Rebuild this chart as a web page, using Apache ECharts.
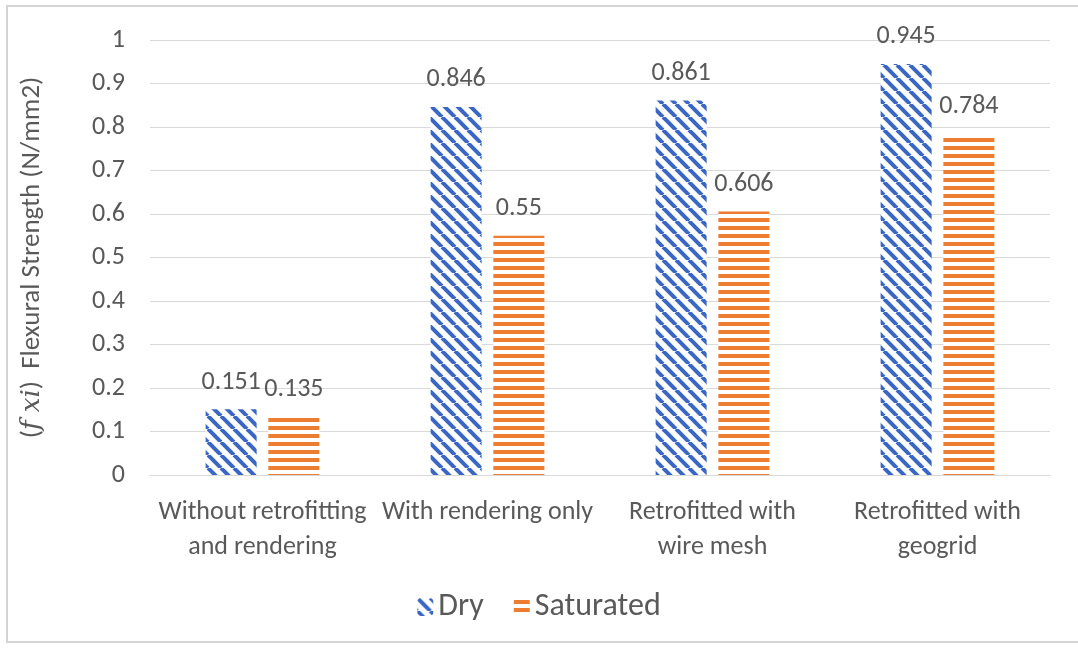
<!DOCTYPE html>
<html>
<head>
<meta charset="utf-8">
<script src="https://cdn.jsdelivr.net/npm/echarts@6/dist/echarts.min.js"></script>
<style>
html,body{margin:0;padding:0;background:#fff;}
#c{width:1078px;height:648px;}
</style>
</head>
<body>
<div id="c"></div>
<script>
const categories = ['Without retrofitting\nand rendering', 'With rendering only', 'Retrofitted with\nwire mesh', 'Retrofitted with\ngeogrid'];
const dryValues = [0.151, 0.846, 0.861, 0.945];
const saturatedValues = [0.135, 0.55, 0.606, 0.784];
const yTicks = [0, 0.1, 0.2, 0.3, 0.4, 0.5, 0.6, 0.7, 0.8, 0.9, 1];

const FONT = "Carlito, 'Liberation Sans Narrow', 'Open Sans', sans-serif";
const TXT = '#595959';

function diagPattern(color) {
  const s = 13;
  const c = document.createElement('canvas');
  c.width = s; c.height = s;
  const g = c.getContext('2d');
  g.fillStyle = '#fff'; g.fillRect(0, 0, s, s);
  g.strokeStyle = color; g.lineWidth = 4; g.lineCap = 'butt';
  for (const off of [-s, 0, s]) {
    g.beginPath(); g.moveTo(off, 0); g.lineTo(off + s, s); g.stroke();
  }
  return c;
}
function horizPattern(color) {
  const c = document.createElement('canvas');
  c.width = 8; c.height = 8;
  const g = c.getContext('2d');
  g.fillStyle = '#fff'; g.fillRect(0, 0, 8, 8);
  g.fillStyle = color; g.fillRect(0, 2, 8, 4);
  return c;
}

const chart = echarts.init(document.getElementById('c'), null, {renderer: 'canvas'});
const labelStyle = {show: true, position: 'top', color: TXT, fontSize: 26, fontFamily: FONT, distance: 14};

chart.setOption({
  backgroundColor: '#fff',
  animation: false,
  graphic: [{
    type: 'rect', shape: {x: 7, y: 6, width: 1090, height: 636},
    style: {fill: 'none', stroke: '#d4d4d4', lineWidth: 2}, silent: true
  }],
  grid: {left: 150, right: 28, top: 40, bottom: 173},
  legend: {
    data: ['Dry', 'Saturated'],
    top: 586, left: 'center',
    itemWidth: 16, itemHeight: 18, itemGap: 30,
    textStyle: {color: TXT, fontSize: 32, fontFamily: FONT}
  },
  xAxis: {
    type: 'category', data: categories,
    axisLine: {lineStyle: {color: '#d9d9d9'}},
    axisTick: {show: false},
    axisLabel: {color: TXT, fontSize: 26, fontFamily: FONT, lineHeight: 35, margin: 20, interval: 0}
  },
  yAxis: {
    type: 'value', min: 0, max: 1, interval: 0.1,
    name: '({it|f xi})  Flexural Strength (N/mm2)',
    nameLocation: 'middle', nameGap: 104, nameRotate: 90,
    nameTextStyle: {
      color: TXT, fontSize: 27, fontFamily: FONT,
      rich: {it: {fontStyle: 'italic', fontSize: 26, color: TXT, fontFamily: "'DejaVu Serif', serif"}}
    },
    axisLabel: {color: TXT, fontSize: 26, fontFamily: FONT, margin: 25,
      formatter: v => yTicks.includes(Math.round(v * 10) / 10) ? String(Math.round(v * 10) / 10) : ''},
    splitLine: {lineStyle: {color: '#d9d9d9', width: 1}},
    axisLine: {show: false}, axisTick: {show: false}
  },
  series: [
    {
      name: 'Dry', type: 'bar', data: dryValues,
      barWidth: 51, barGap: '23%',
      itemStyle: {color: {image: diagPattern('#3a66c4'), repeat: 'repeat'}},
      label: labelStyle
    },
    {
      name: 'Saturated', type: 'bar', data: saturatedValues,
      barWidth: 51,
      itemStyle: {color: {image: horizPattern('#ed7d31'), repeat: 'repeat'}},
      label: labelStyle
    }
  ]
});
</script>
</body>
</html>
